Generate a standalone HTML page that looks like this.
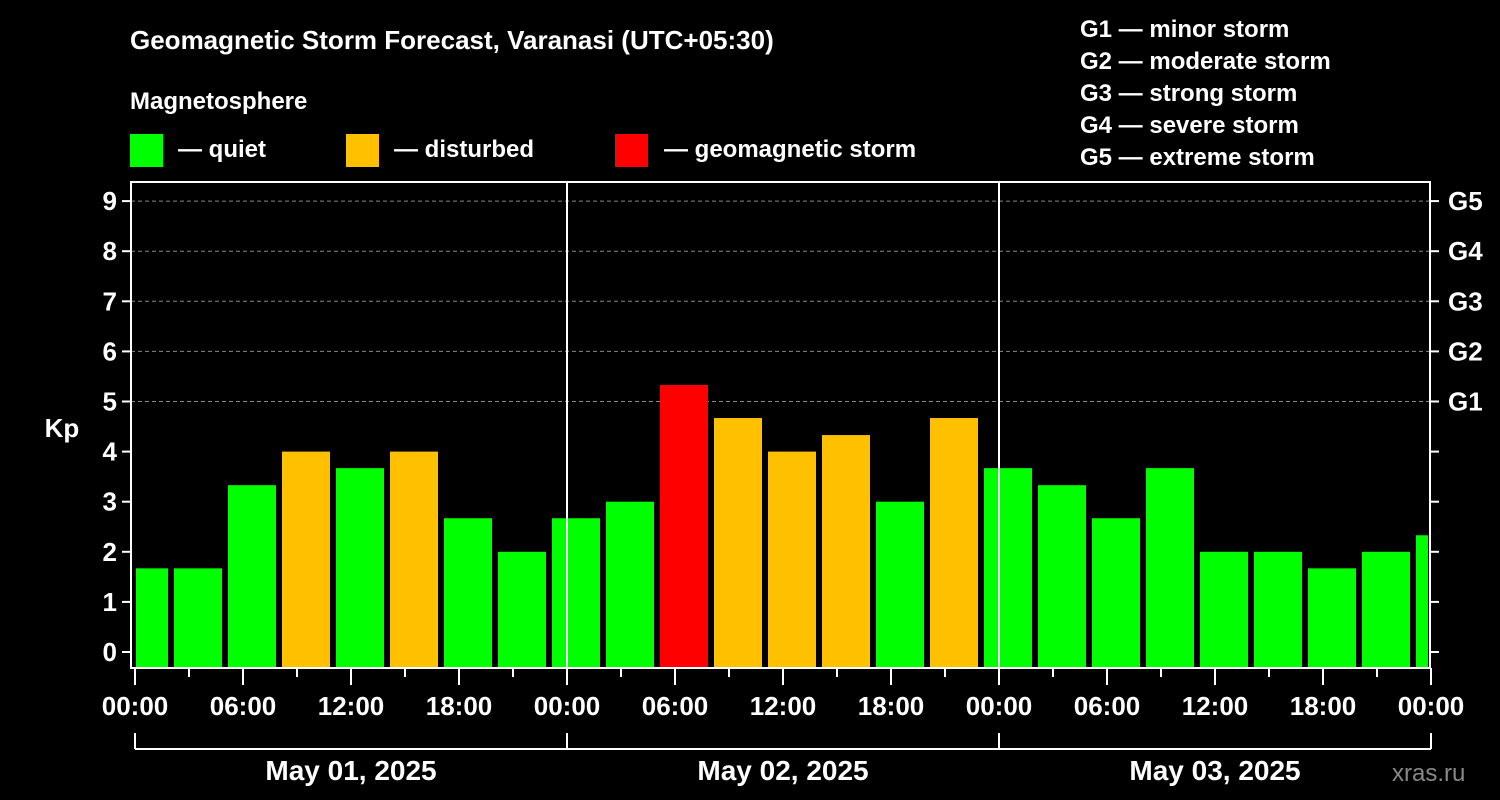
<!DOCTYPE html>
<html><head><meta charset="utf-8"><style>
html,body{margin:0;padding:0;background:#000;width:1500px;height:800px;overflow:hidden}
svg{display:block;font-family:"Liberation Sans",sans-serif;font-weight:bold}
</style></head><body>
<svg id="chart" width="1500" height="800" viewBox="0 0 1500 800">
<text x="130" y="49" fill="#fff" font-size="26">Geomagnetic Storm Forecast, Varanasi (UTC+05:30)</text>
<text x="130" y="109" fill="#fff" font-size="24">Magnetosphere</text>
<g><rect x="130" y="134" width="33" height="33" fill="#00ff00"/><text x="178" y="157" fill="#fff" font-size="24">— quiet</text></g>
<g><rect x="346" y="134" width="33" height="33" fill="#ffc000"/><text x="394" y="157" fill="#fff" font-size="24">— disturbed</text></g>
<g><rect x="615" y="134" width="33" height="33" fill="#ff0000"/><text x="664" y="157" fill="#fff" font-size="24">— geomagnetic storm</text></g>
<g fill="#fff" font-size="24">
<text x="1080" y="37">G1 — minor storm</text>
<text x="1080" y="69">G2 — moderate storm</text>
<text x="1080" y="101">G3 — strong storm</text>
<text x="1080" y="133">G4 — severe storm</text>
<text x="1080" y="165">G5 — extreme storm</text>
</g>
<text x="62" y="437" fill="#fff" font-size="26" text-anchor="middle">Kp</text>
<text x="1392" y="781" fill="#888" font-size="24" font-weight="normal">xras.ru</text>
<g id="grid"></g><g id="bars"></g><g id="axes"></g>
</svg>
<script>
const kpValues=[1.67,1.67,3.33,4,3.67,4,2.67,2,2.67,3,5.33,4.67,4,4.33,3,4.67,3.67,3.33,2.67,3.67,2,2,1.67,2,2.33];
const yTicks=[0,1,2,3,4,5,6,7,8,9];
const gLabels=["G1","G2","G3","G4","G5"];
const xTickLabels=["00:00","06:00","12:00","18:00","00:00","06:00","12:00","18:00","00:00","06:00","12:00","18:00","00:00"];
const dayLabels=["May 01, 2025","May 02, 2025","May 03, 2025"];
const NS="http://www.w3.org/2000/svg";
const X0=135,PXH=18,Y0=652,PXK=50.1,TOP=182,BOT=668,L=131,R=1430;
const xs=h=>X0+h*PXH, ys=v=>Y0-v*PXK;
function mk(tag,attrs,parent){const e=document.createElementNS(NS,tag);for(const k in attrs)e.setAttribute(k,attrs[k]);parent.appendChild(e);return e;}
const grid=document.getElementById('grid'),bars=document.getElementById('bars'),axes=document.getElementById('axes');
for(let v=5;v<=9;v++){const l=mk('line',{x1:L,x2:R,y1:ys(v),y2:ys(v),stroke:'#888','stroke-dasharray':'4,3','stroke-width':1},grid);

}
kpValues.forEach((v,i)=>{
 let h0=i===0?0:2+3*(i-1), h1=Math.min(72,2+3*i);
 let x0=xs(h0)+3,x1=xs(h1)-3; if(i===0)x0=xs(0)+1; if(i===kpValues.length-1)x1=xs(72)-3;
 const c=v>=5?'#ff0000':(v>=4?'#ffc000':'#00ff00');
 const r=mk('rect',{x:x0,y:ys(v),width:x1-x0,height:BOT-ys(v),fill:c},bars);
 
 
});
mk('rect',{x:L,y:TOP,width:R-L,height:BOT-TOP,fill:'none',stroke:'#fff','stroke-width':2},axes);
[24,48].forEach(h=>mk('line',{x1:xs(h),x2:xs(h),y1:TOP,y2:BOT,stroke:'#fff','stroke-width':2},axes));
yTicks.forEach(v=>{
 mk('line',{x1:L-9,x2:L,y1:ys(v),y2:ys(v),stroke:'#fff','stroke-width':2},axes);
 mk('line',{x1:R,x2:R+9,y1:ys(v),y2:ys(v),stroke:'#fff','stroke-width':2},axes);
 const t=mk('text',{x:L-14,y:ys(v)+9,fill:'#fff','font-size':26,'text-anchor':'end'},axes);t.textContent=v;
 
 
});
gLabels.forEach((g,i)=>{const t=mk('text',{x:1448,y:ys(5+i)+9,fill:'#fff','font-size':26},axes);t.textContent=g;
 
 });
for(let h=0;h<=72;h+=3){const maj=h%6===0;mk('line',{x1:xs(h),x2:xs(h),y1:BOT,y2:BOT+(maj?17:9),stroke:'#fff','stroke-width':2},axes);}
xTickLabels.forEach((s,i)=>{const t=mk('text',{x:xs(i*6),y:715,fill:'#fff','font-size':26,'text-anchor':'middle'},axes);t.textContent=s;
 
 });
mk('line',{x1:xs(0),x2:xs(72),y1:749,y2:749,stroke:'#fff','stroke-width':2},axes);
for(let d=0;d<=3;d++)mk('line',{x1:xs(24*d),x2:xs(24*d),y1:733,y2:749,stroke:'#fff','stroke-width':2},axes);
dayLabels.forEach((s,i)=>{const t=mk('text',{x:xs(24*i+12),y:780,fill:'#fff','font-size':28,'text-anchor':'middle'},axes);t.textContent=s;
 
 });
</script>
</body></html>
